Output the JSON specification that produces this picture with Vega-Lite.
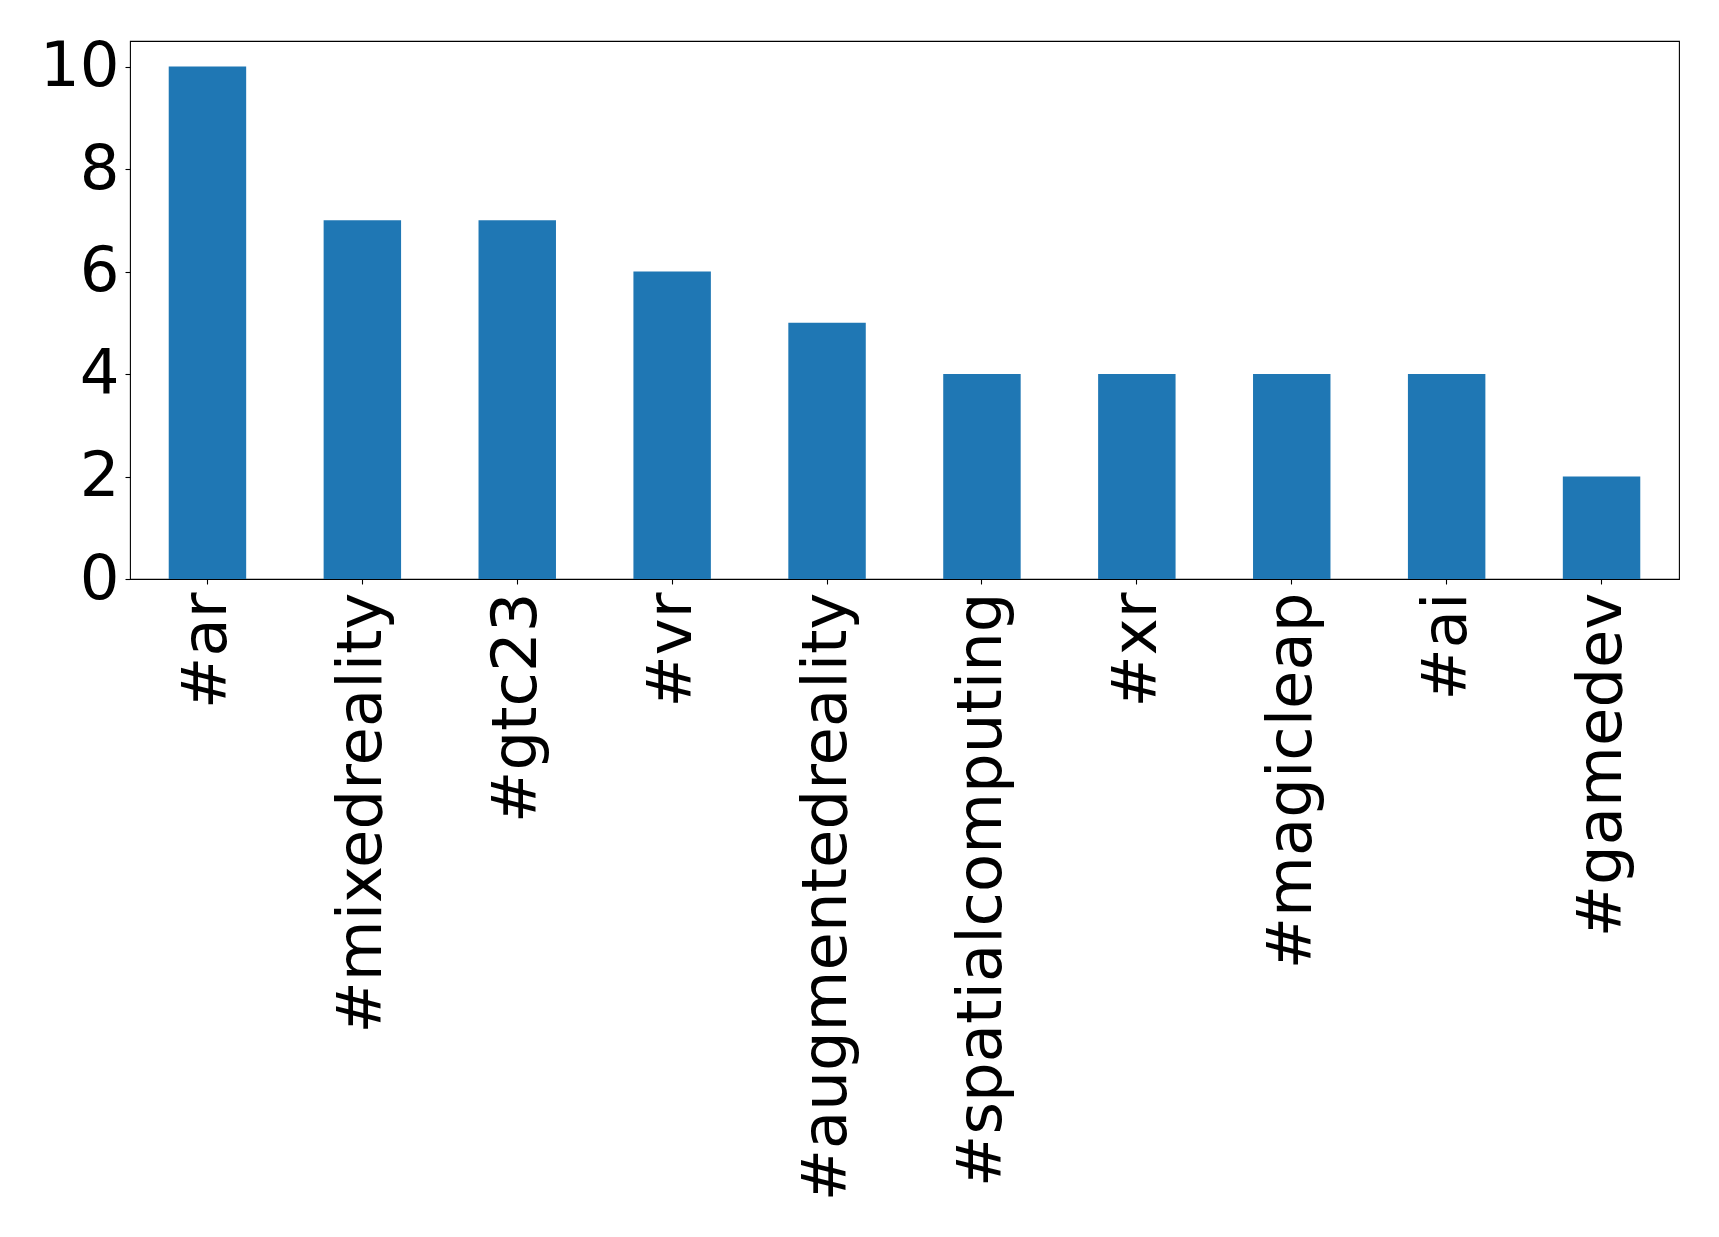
{
  "$schema": "https://vega.github.io/schema/vega-lite/v6.json",
  "autosize": "none",
  "width": 1549,
  "height": 538,
  "padding": {"left": 130, "top": 41, "right": 40, "bottom": 658},
  "background": "white",
  "config": {
    "view": {"stroke": "black", "strokeWidth": 1.1},
    "axis": {"grid": false, "domain": false, "tickColor": "black", "tickWidth": 1.1, "tickSize": 5, "labelColor": "black", "labelFont": "DejaVu Sans", "labelFontSize": 62.5, "title": null}
  },
  "data": {
    "values": [
      {"tag": "#ar", "count": 10},
      {"tag": "#mixedreality", "count": 7},
      {"tag": "#gtc23", "count": 7},
      {"tag": "#vr", "count": 6},
      {"tag": "#augmentedreality", "count": 5},
      {"tag": "#spatialcomputing", "count": 4},
      {"tag": "#xr", "count": 4},
      {"tag": "#magicleap", "count": 4},
      {"tag": "#ai", "count": 4},
      {"tag": "#gamedev", "count": 2}
    ]
  },
  "mark": {"type": "bar", "color": "#1f77b4"},
  "encoding": {
    "x": {
      "field": "tag", "type": "nominal", "sort": null,
      "scale": {"paddingInner": 0.5, "paddingOuter": 0.25},
      "axis": {"labelAngle": -90, "labelLimit": 0, "labelPadding": 8, "labelAlign": "right", "labelBaseline": "middle"}
    },
    "y": {
      "field": "count", "type": "quantitative",
      "scale": {"domain": [0, 10.5], "nice": false},
      "axis": {"values": [0, 2, 4, 6, 8, 10], "labelPadding": 6}
    }
  }
}
